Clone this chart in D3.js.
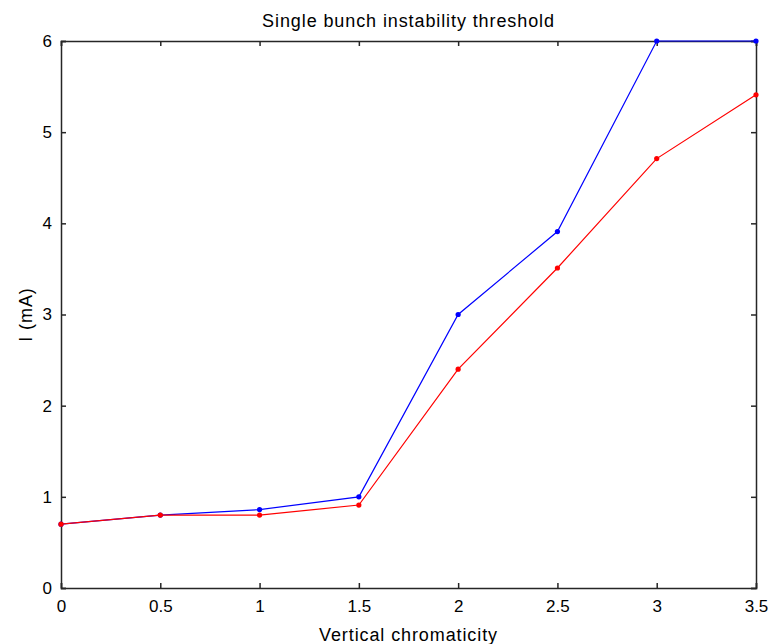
<!DOCTYPE html>
<html>
<head>
<meta charset="utf-8">
<script src="https://cdn.jsdelivr.net/npm/d3@7"></script>
<style>
  body { margin: 0; background: #fff; }
  text { font-family: "Liberation Sans", Arial, sans-serif; fill: #000; }
</style>
</head>
<body>
<div id="chart"></div>
<script>
// chromaticity values (x) and threshold currents (mA)
const chroma = [0, 0.5, 1, 1.5, 2, 2.5, 3, 3.5];
const blueI = [0.7, 0.8, 0.86, 1.0, 3.0, 3.91, 6.0, 6.0];
const redI = [0.7, 0.8, 0.8, 0.91, 2.4, 3.51, 4.71, 5.41];
const xTicks = [0, 0.5, 1, 1.5, 2, 2.5, 3, 3.5];
const yTicks = [0, 1, 2, 3, 4, 5, 6];

const width = 771, height = 644;
const margin = { top: 41, right: 15, bottom: 56, left: 61 };

const svg = d3.select('#chart').append('svg')
  .attr('width', width)
  .attr('height', height);

const x = d3.scaleLinear().domain([0, 3.5]).range([margin.left, width - margin.right]);
const y = d3.scaleLinear().domain([0, 6]).range([height - margin.bottom, margin.top]);

const axisColor = '#262626';

// box axes, ticks inward, like matlab
const tl = 5;
const fmt = d => String(d);

svg.append('g')
  .attr('transform', `translate(0,${y(0)})`)
  .call(d3.axisBottom(x).tickValues(xTicks).tickSize(-tl).tickPadding(12).tickFormat(fmt));
svg.append('g')
  .attr('transform', `translate(0,${y(6)})`)
  .call(d3.axisTop(x).tickValues(xTicks).tickSize(-tl).tickFormat(''));
svg.append('g')
  .attr('transform', `translate(${x(0)},0)`)
  .call(d3.axisLeft(y).tickValues(yTicks).tickSize(-tl).tickPadding(9).tickFormat(fmt));
svg.append('g')
  .attr('transform', `translate(${x(3.5)},0)`)
  .call(d3.axisRight(y).tickValues(yTicks).tickSize(-tl).tickFormat(''));

svg.selectAll('.domain, .tick line')
  .attr('stroke', axisColor)
  .attr('stroke-width', 1.5);
svg.selectAll('.tick text')
  .attr('font-size', 17)
  .attr('fill', '#111');

const line = d3.line()
  .x(d => x(d[0]))
  .y(d => y(d[1]));

function drawSeries(vals, color) {
  const pts = chroma.map((c, i) => [c, vals[i]]);
  svg.append('path')
    .datum(pts)
    .attr('fill', 'none')
    .attr('stroke', color)
    .attr('stroke-width', 1.2)
    .attr('d', line);
  svg.append('g')
    .selectAll('circle')
    .data(pts)
    .join('circle')
    .attr('cx', d => x(d[0]))
    .attr('cy', d => y(d[1]))
    .attr('r', 2.6)
    .attr('fill', color);
}

drawSeries(blueI, '#0000ff');
drawSeries(redI, '#ff0000');

const labelStyle = sel => sel
  .attr('font-size', 18)
  .attr('letter-spacing', 0.9)
  .attr('fill', '#111');

svg.append('text')
  .attr('x', (x(0) + x(3.5)) / 2)
  .attr('y', 27)
  .attr('text-anchor', 'middle')
  .call(labelStyle)
  .text('Single bunch instability threshold');

svg.append('text')
  .attr('x', (x(0) + x(3.5)) / 2)
  .attr('y', 641)
  .attr('text-anchor', 'middle')
  .call(labelStyle)
  .text('Vertical chromaticity');

svg.append('text')
  .attr('transform', `translate(32,${(y(0) + y(6)) / 2}) rotate(-90)`)
  .attr('text-anchor', 'middle')
  .call(labelStyle)
  .text('I (mA)');
</script>
</body>
</html>
